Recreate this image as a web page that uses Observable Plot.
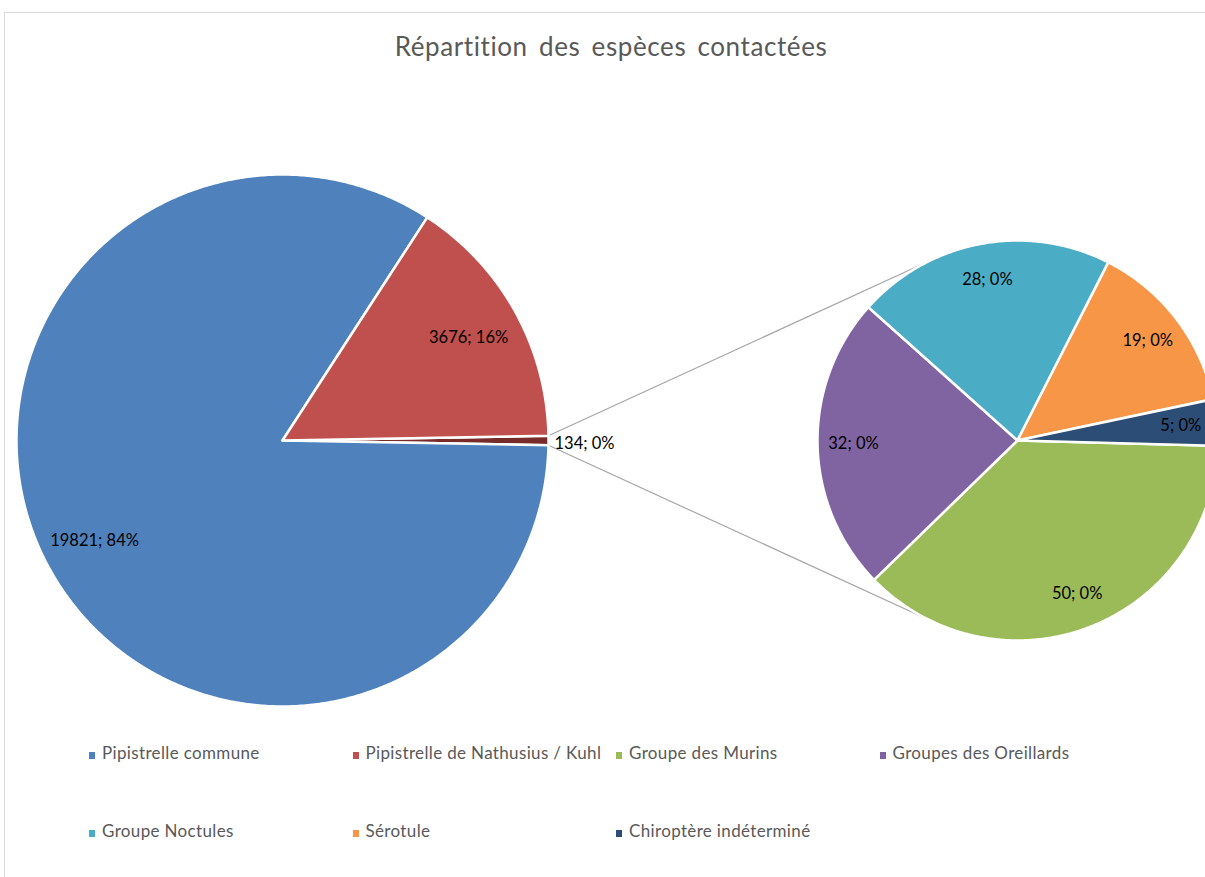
<!DOCTYPE html>
<html><head><meta charset="utf-8">
<script src="https://cdn.jsdelivr.net/npm/d3@7"></script>
<script src="https://cdn.jsdelivr.net/npm/@observablehq/plot@0.6"></script>
<style>
html,body{margin:0;padding:0;background:#fff;overflow:hidden;width:1205px;height:877px;}
#frame{position:absolute;left:4px;top:12px;width:1260px;height:900px;border-left:1px solid #d9d9d9;border-top:1px solid #d9d9d9;}
#title{position:absolute;left:0;width:1222px;top:30px;text-align:center;font-family:Lato,sans-serif;font-size:26px;letter-spacing:0.6px;color:#595959;word-spacing:4px;}
#chart{position:absolute;left:0;top:90px;}
.leg{position:absolute;font-family:Lato,sans-serif;font-size:17px;letter-spacing:0.35px;color:#595959;white-space:nowrap;line-height:20px;}
.leg span{display:inline-block;width:6px;height:7px;margin-right:7px;vertical-align:0px;}
</style></head>
<body>
<div id="frame"></div>
<div id="title">Répartition des espèces contactées</div>
<div id="chart"></div>
<div id="legend"></div>
<script>
// ---- data ----
const mainCategories = ["Pipistrelle commune", "Pipistrelle de Nathusius / Kuhl", "Autres"];
const mainValues = [19821, 3676, 134];
const mainPercents = [84, 16, 0];
const subCategories = ["Groupe des Murins", "Groupes des Oreillards", "Groupe Noctules", "Sérotule", "Chiroptère indéterminé"];
const subValues = [50, 32, 28, 19, 5];
const subPercents = [0, 0, 0, 0, 0];
const legendCategories = ["Pipistrelle commune", "Pipistrelle de Nathusius / Kuhl", "Groupe des Murins", "Groupes des Oreillards", "Groupe Noctules", "Sérotule", "Chiroptère indéterminé"];
const colorOf = {
  "Pipistrelle commune": "#4F81BD",
  "Pipistrelle de Nathusius / Kuhl": "#C0504D",
  "Autres": "#772C2A",
  "Groupe des Murins": "#9BBB59",
  "Groupes des Oreillards": "#8064A2",
  "Groupe Noctules": "#4BACC6",
  "Sérotule": "#F79646",
  "Chiroptère indéterminé": "#2C4D75"
};

// ---- layout ----
const W = 1205, H = 640;
const mainC = [282, 350], mainR = 266;
const subC = [1017, 350], subR = 200;
const subStart = 91.5; // degrees clockwise from north

const total = d3.sum(mainValues);
const rad = d => d * Math.PI / 180;
const pt = (c, r, a) => [c[0] + r * Math.sin(rad(a)), c[1] - r * Math.cos(rad(a))];

function slices(cats, vals, pcts, c, r, start) {
  const tot = d3.sum(vals);
  let a = start;
  return cats.map((k, i) => {
    const span = vals[i] / tot * 360;
    const s = {key: k, value: vals[i], pct: pcts[i], a0: a, a1: a + span, c, r};
    a += span;
    return s;
  });
}
// main pie: clockwise starting from the "other" slice, centered at east
const otherSpan = mainValues[2] / total * 360;
const order = [2, 0, 1];
const mainSlices = slices(order.map(i => mainCategories[i]), order.map(i => mainValues[i]), order.map(i => mainPercents[i]), mainC, mainR, 90 - otherSpan / 2);
const subSlices = slices(subCategories, subValues, subPercents, subC, subR, subStart);
const allSlices = [...mainSlices, ...subSlices];

const poly = [];
for (const s of allSlices) {
  const [cx, cy] = s.c;
  poly.push({key: s.key, x: cx, y: cy});
  const n = Math.max(2, Math.ceil((s.a1 - s.a0) / 0.5));
  for (let j = 0; j <= n; j++) {
    const [x, y] = pt(s.c, s.r, s.a0 + (s.a1 - s.a0) * j / n);
    poly.push({key: s.key, x, y});
  }
  poly.push({key: s.key, x: cx, y: cy});
}

// labels
const fmt = s => `${s.value}; ${s.pct}%`;
const insideLabels = [], outsideLabels = [];
for (const s of allSlices) {
  const mid = (s.a0 + s.a1) / 2;
  if (s.key === "Autres") {
    const [x, y] = pt(s.c, s.r + 6, mid);
    outsideLabels.push({x, y: y + 3, text: fmt(s)});
  } else {
    const f = s.c === mainC ? 0.8 : 0.82;
    const [x, y] = pt(s.c, s.r * f, mid);
    insideLabels.push({x, y, text: fmt(s)});
  }
}

// connector lines: from edges of "other" slice to tangent points of secondary pie
const other = mainSlices[0];
const conn = [];
[[other.a0, 1], [other.a1, -1]].forEach(([a, side], i) => {
  const P = pt(mainC, mainR, a);
  const d = Math.hypot(subC[0] - P[0], subC[1] - P[1]);
  const base = Math.atan2(P[1] - subC[1], P[0] - subC[0]);
  const ang = base + side * Math.acos(subR / d);
  const T = [subC[0] + subR * Math.cos(ang), subC[1] + subR * Math.sin(ang)];
  conn.push({k: i, x: P[0], y: P[1]}, {k: i, x: T[0], y: T[1]});
});

const textStyle = {x: "x", y: "y", text: "text", fill: "#000", fontSize: 16.5, fontFamily: "Lato, sans-serif"};
const chart = Plot.plot({
  width: W, height: H,
  margin: 0,
  x: {domain: [0, W], range: [0, W], axis: null},
  y: {domain: [0, H], range: [0, H], axis: null},
  style: {background: "transparent", overflow: "hidden"},
  marks: [
    Plot.line(conn, {x: "x", y: "y", z: "k", stroke: "#A6A6A6", strokeWidth: 1.2}),
    Plot.line(poly, {x: "x", y: "y", z: "key", fill: d => colorOf[d.key], stroke: "white", strokeWidth: 2.5, strokeLinejoin: "round", curve: "linear"}),
    Plot.text(insideLabels, {...textStyle, textAnchor: "middle"}),
    Plot.text(outsideLabels, {...textStyle, textAnchor: "start"})
  ]
});
document.getElementById("chart").appendChild(chart);

// legend
const leg = document.getElementById("legend");
legendCategories.forEach((k, i) => {
  const col = i % 4, row = Math.floor(i / 4);
  const el = document.createElement("div");
  el.className = "leg";
  el.style.left = (89 + col * 263.5) + "px";
  el.style.top = (743 + row * 78) + "px";
  el.innerHTML = `<span style="background:${colorOf[k]}"></span>${k}`;
  leg.appendChild(el);
});
</script>
</body></html>
